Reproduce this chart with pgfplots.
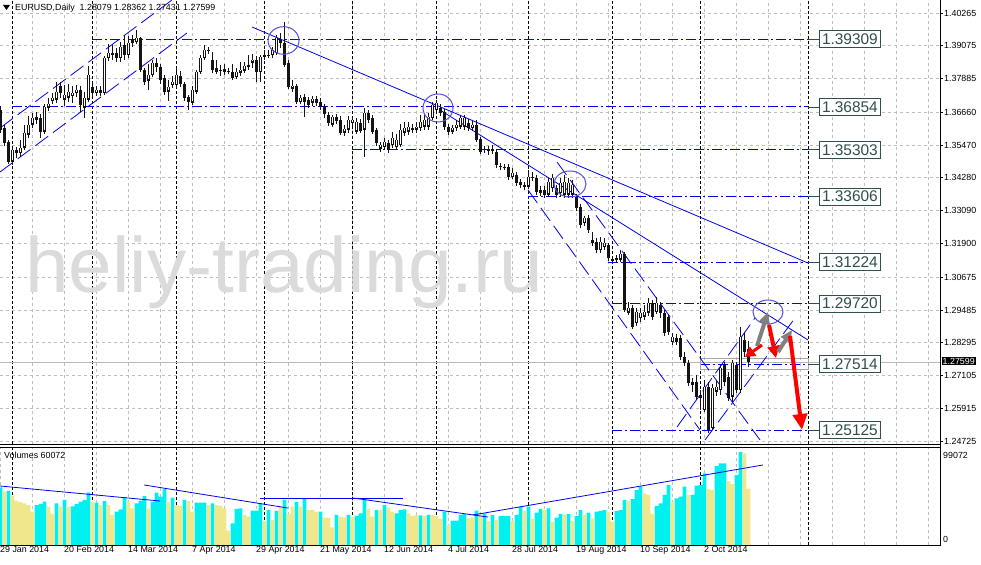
\documentclass[border=0pt]{standalone}
\usepackage{pgfplots}
\pgfplotsset{compat=1.18}
\usepackage{pgfplotstable}
\usepackage{fontspec}
\setmainfont{Liberation Sans}
\usetikzlibrary{arrows.meta}
\definecolor{cnd}{RGB}{20,20,20}
\definecolor{volup}{RGB}{0,240,240}
\definecolor{voldn}{RGB}{240,230,140}
\definecolor{lvl}{RGB}{0,0,240}
\definecolor{slate}{RGB}{47,79,79}
\definecolor{gridc}{RGB}{190,190,190}
\definecolor{circ}{RGB}{80,80,220}
\newcommand\tf{\fontsize{8.9}{10}\selectfont}
\newcommand\lbf{\fontsize{15.5}{16}\selectfont}

\pgfplotstableread{
i o h l c
0 1.3674 1.3689 1.3591 1.3602
1 1.3609 1.3620 1.3544 1.3555
2 1.3558 1.3566 1.3478 1.3486
3 1.3486 1.3544 1.3475 1.3529
4 1.3529 1.3540 1.3500 1.3518
5 1.3518 1.3566 1.3504 1.3537
6 1.3537 1.3620 1.3529 1.3591
7 1.3584 1.3653 1.3573 1.3620
8 1.3620 1.3664 1.3609 1.3645
9 1.3649 1.3667 1.3624 1.3638
10 1.3645 1.3660 1.3573 1.3595
11 1.3595 1.3696 1.3587 1.3685
12 1.3682 1.3718 1.3671 1.3696
13 1.3707 1.3736 1.3696 1.3718
14 1.3711 1.3776 1.3700 1.3740
15 1.3762 1.3776 1.3718 1.3736
16 1.3711 1.3765 1.3689 1.3729
17 1.3718 1.3769 1.3703 1.3740
18 1.3725 1.3762 1.3700 1.3736
19 1.3736 1.3765 1.3722 1.3747
20 1.3747 1.3762 1.3667 1.3693
21 1.3682 1.3740 1.3645 1.3718
22 1.3711 1.3834 1.3703 1.3801
23 1.3758 1.3776 1.3722 1.3736
24 1.3736 1.3762 1.3725 1.3747
25 1.3747 1.3762 1.3725 1.3736
26 1.3736 1.3870 1.3729 1.3863
27 1.3863 1.3914 1.3852 1.3881
28 1.3881 1.3910 1.3856 1.3874
29 1.3881 1.3900 1.3849 1.3863
30 1.3863 1.3921 1.3849 1.3903
31 1.3910 1.3947 1.3856 1.3874
32 1.3874 1.3943 1.3863 1.3918
33 1.3929 1.3947 1.3903 1.3918
34 1.3921 1.3965 1.3914 1.3936
35 1.3936 1.3939 1.3812 1.3820
36 1.3820 1.3827 1.3765 1.3776
37 1.3780 1.3841 1.3747 1.3801
38 1.3801 1.3856 1.3794 1.3845
39 1.3845 1.3863 1.3812 1.3831
40 1.3831 1.3841 1.3769 1.3783
41 1.3791 1.3801 1.3729 1.3740
42 1.3740 1.3783 1.3707 1.3758
43 1.3765 1.3798 1.3754 1.3776
44 1.3765 1.3827 1.3754 1.3801
45 1.3798 1.3816 1.3758 1.3769
46 1.3769 1.3776 1.3707 1.3718
47 1.3722 1.3729 1.3674 1.3703
48 1.3700 1.3762 1.3693 1.3747
49 1.3740 1.3820 1.3733 1.3812
50 1.3812 1.3874 1.3805 1.3863
51 1.3863 1.3910 1.3856 1.3892
52 1.3892 1.3903 1.3878 1.3889
53 1.3856 1.3885 1.3809 1.3820
54 1.3827 1.3856 1.3805 1.3812
55 1.3820 1.3838 1.3798 1.3816
56 1.3823 1.3841 1.3801 1.3812
57 1.3816 1.3827 1.3805 1.3812
58 1.3812 1.3841 1.3783 1.3791
59 1.3794 1.3827 1.3787 1.3812
60 1.3809 1.3849 1.3798 1.3820
61 1.3816 1.3849 1.3809 1.3834
62 1.3831 1.3874 1.3820 1.3838
63 1.3845 1.3878 1.3827 1.3856
64 1.3856 1.3870 1.3776 1.3812
65 1.3812 1.3874 1.3776 1.3867
66 1.3867 1.3892 1.3856 1.3874
67 1.3870 1.3892 1.3863 1.3874
68 1.3874 1.3903 1.3863 1.3892
69 1.3881 1.3947 1.3874 1.3936
70 1.3932 1.3954 1.3900 1.3918
71 1.3918 1.3994 1.3831 1.3838
72 1.3845 1.3856 1.3751 1.3758
73 1.3751 1.3783 1.3740 1.3762
74 1.3762 1.3769 1.3696 1.3703
75 1.3703 1.3729 1.3696 1.3718
76 1.3722 1.3733 1.3649 1.3703
77 1.3711 1.3722 1.3682 1.3693
78 1.3700 1.3725 1.3689 1.3714
79 1.3714 1.3725 1.3689 1.3700
80 1.3703 1.3718 1.3674 1.3685
81 1.3685 1.3696 1.3645 1.3660
82 1.3656 1.3667 1.3616 1.3627
83 1.3620 1.3656 1.3613 1.3649
84 1.3649 1.3660 1.3624 1.3635
85 1.3638 1.3653 1.3584 1.3591
86 1.3591 1.3620 1.3580 1.3605
87 1.3602 1.3653 1.3591 1.3638
88 1.3627 1.3649 1.3613 1.3638
89 1.3595 1.3645 1.3587 1.3631
90 1.3627 1.3642 1.3591 1.3598
91 1.3602 1.3682 1.3504 1.3664
92 1.3664 1.3674 1.3627 1.3638
93 1.3645 1.3656 1.3587 1.3595
94 1.3602 1.3609 1.3544 1.3555
95 1.3533 1.3558 1.3522 1.3547
96 1.3540 1.3573 1.3529 1.3558
97 1.3555 1.3566 1.3518 1.3529
98 1.3547 1.3595 1.3537 1.3573
99 1.3540 1.3587 1.3529 1.3566
100 1.3547 1.3624 1.3540 1.3602
101 1.3591 1.3631 1.3580 1.3609
102 1.3595 1.3631 1.3584 1.3613
103 1.3602 1.3624 1.3591 1.3609
104 1.3602 1.3631 1.3591 1.3613
105 1.3609 1.3656 1.3598 1.3631
106 1.3613 1.3656 1.3602 1.3638
107 1.3613 1.3664 1.3602 1.3649
108 1.3645 1.3703 1.3638 1.3693
109 1.3674 1.3711 1.3667 1.3700
110 1.3682 1.3696 1.3653 1.3664
111 1.3667 1.3678 1.3602 1.3613
112 1.3613 1.3624 1.3584 1.3595
113 1.3595 1.3620 1.3587 1.3609
114 1.3609 1.3638 1.3598 1.3620
115 1.3613 1.3656 1.3605 1.3645
116 1.3613 1.3656 1.3602 1.3645
117 1.3627 1.3642 1.3598 1.3609
118 1.3609 1.3635 1.3598 1.3620
119 1.3620 1.3638 1.3558 1.3566
120 1.3569 1.3576 1.3515 1.3522
121 1.3533 1.3544 1.3518 1.3529
122 1.3533 1.3544 1.3511 1.3526
123 1.3533 1.3547 1.3515 1.3526
124 1.3522 1.3529 1.3464 1.3475
125 1.3471 1.3482 1.3457 1.3468
126 1.3468 1.3478 1.3457 1.3467
127 1.3467 1.3478 1.3420 1.3431
128 1.3431 1.3464 1.3424 1.3446
129 1.3438 1.3449 1.3399 1.3409
130 1.3413 1.3424 1.3391 1.3402
131 1.3402 1.3413 1.3384 1.3395
132 1.3395 1.3457 1.3388 1.3431
133 1.3427 1.3449 1.3417 1.3431
134 1.3427 1.3438 1.3366 1.3377
135 1.3384 1.3399 1.3363 1.3373
136 1.3384 1.3399 1.3355 1.3366
137 1.3366 1.3427 1.3359 1.3413
138 1.3391 1.3442 1.3377 1.3427
139 1.3391 1.3402 1.3355 1.3366
140 1.3373 1.3427 1.3359 1.3409
141 1.3366 1.3438 1.3355 1.3413
142 1.3366 1.3427 1.3355 1.3409
143 1.3366 1.3420 1.3355 1.3402
144 1.3359 1.3369 1.3308 1.3319
145 1.3322 1.3333 1.3246 1.3257
146 1.3264 1.3290 1.3253 1.3282
147 1.3282 1.3293 1.3228 1.3239
148 1.3203 1.3232 1.3181 1.3192
149 1.3195 1.3210 1.3155 1.3166
150 1.3166 1.3213 1.3155 1.3195
151 1.3177 1.3210 1.3166 1.3192
152 1.3184 1.3192 1.3126 1.3137
153 1.3133 1.3144 1.3122 1.3126
154 1.3130 1.3148 1.3122 1.3137
155 1.3130 1.3166 1.3122 1.3151
156 1.3151 1.3159 1.2941 1.2948
157 1.2938 1.2977 1.2930 1.2956
158 1.2956 1.2966 1.2879 1.2887
159 1.2901 1.2956 1.2890 1.2941
160 1.2919 1.2956 1.2905 1.2938
161 1.2923 1.2966 1.2912 1.2941
162 1.2938 1.2992 1.2927 1.2974
163 1.2974 1.2985 1.2912 1.2923
164 1.2941 1.2996 1.2934 1.2974
165 1.2966 1.2977 1.2919 1.2938
166 1.2938 1.2948 1.2854 1.2865
167 1.2923 1.2934 1.2858 1.2869
168 1.2832 1.2865 1.2821 1.2850
169 1.2847 1.2861 1.2821 1.2832
170 1.2847 1.2858 1.2767 1.2778
171 1.2778 1.2796 1.2745 1.2756
172 1.2756 1.2767 1.2672 1.2683
173 1.2687 1.2701 1.2651 1.2676
174 1.2687 1.2712 1.2622 1.2633
175 1.2640 1.2658 1.2585 1.2629
176 1.2585 1.2694 1.2578 1.2669
177 1.2669 1.2687 1.2502 1.2513
178 1.2520 1.2680 1.2513 1.2665
179 1.2651 1.2694 1.2636 1.2669
180 1.2658 1.2749 1.2640 1.2738
181 1.2749 1.2760 1.2672 1.2687
182 1.2705 1.2723 1.2618 1.2629
183 1.2633 1.2767 1.2614 1.2756
184 1.2749 1.2760 1.2647 1.2658
185 1.2658 1.2887 1.2647 1.2850
186 1.2840 1.2869 1.2778 1.2796
187 1.28079 1.28362 1.27431 1.27599
}\candles

\pgfplotstableread{
i v u
0 61500 1
1 56900 0
2 57600 1
3 52200 0
4 47300 0
5 45800 0
6 44400 0
7 42600 0
8 35500 0
9 42600 1
10 43700 1
11 46200 1
12 40900 0
13 33100 0
14 44400 1
15 40900 0
16 48000 1
17 40900 0
18 41200 1
19 43700 1
20 46200 1
21 48000 1
22 56100 1
23 46200 0
24 45100 1
25 42600 0
26 46900 1
27 42600 0
28 32000 0
29 35500 1
30 38000 1
31 50800 1
32 46200 0
33 39100 0
34 44400 1
35 47300 1
36 52200 1
37 39100 0
38 46200 1
39 55800 1
40 51500 1
41 59700 1
42 46200 0
43 50500 1
44 42600 0
45 41600 0
46 48000 1
47 46900 0
48 35500 0
49 45100 1
50 45100 1
51 45100 1
52 42600 0
53 44400 1
54 42600 0
55 41600 0
56 39100 0
57 15300 0
58 23100 1
59 38400 1
60 39100 1
61 32000 0
62 30200 0
63 36600 1
64 36600 1
65 44400 1
66 25600 0
67 37300 1
68 26700 0
69 36300 1
70 40900 0
71 48000 1
72 33100 0
73 40900 0
74 45800 1
75 40900 0
76 49400 1
77 37300 0
78 37300 0
79 35500 0
80 35500 1
81 29100 0
82 29100 0
83 18800 0
84 32000 1
85 30200 0
86 29500 0
87 32000 1
88 30200 0
89 30900 1
90 33800 1
91 49000 1
92 38400 0
93 30200 0
94 37300 1
95 37300 0
96 42600 1
97 39800 0
98 35500 0
99 33800 1
100 37300 1
101 38000 1
102 33800 0
103 30900 0
104 32000 0
105 31600 1
106 30900 0
107 32000 1
108 32000 0
109 30900 0
110 28100 0
111 35500 1
112 21300 0
113 25900 1
114 25900 1
115 32000 1
116 33100 1
117 28400 0
118 29500 0
119 36600 1
120 31600 0
121 33800 1
122 25600 0
123 32000 1
124 26700 0
125 30900 1
126 30900 1
127 30900 1
128 25600 0
129 32000 1
130 40900 1
131 36300 0
132 40900 1
133 28400 0
134 34500 1
135 38400 1
136 37300 0
137 39100 1
138 24900 0
139 29100 1
140 33100 1
141 32000 0
142 33100 1
143 25600 0
144 30900 1
145 37300 1
146 32000 0
147 34500 1
148 28400 0
149 35500 1
150 36300 1
151 37300 1
152 35500 0
153 24900 0
154 36300 1
155 37300 1
156 48000 1
157 46900 0
158 49000 1
159 58600 1
160 62200 1
161 55100 0
162 53300 0
163 33100 0
164 41600 1
165 44400 1
166 53300 1
167 64000 1
168 46200 0
169 49800 1
170 51500 1
171 62200 1
172 53300 0
173 53300 1
174 63300 1
175 64000 1
176 76400 1
177 59700 0
178 58600 0
179 84200 1
180 87100 1
181 87100 1
182 68200 0
183 65000 0
184 74600 1
185 99072 1
186 97700 0
187 60072 0
}\vols

\begin{document}
\begin{tikzpicture}
\useasboundingbox (0,0) rectangle (981bp,565bp);
% ---------------- main price panel ----------------
\begin{axis}[
  at={(0bp,121bp)}, anchor=south west, scale only axis,
  width=940bp, height=444bp,
  xmin=0, xmax=235, ymin=1.24620, ymax=1.40737,
  axis line style={draw=none},
  xtick={8,16,...,232}, xticklabels={}, x tick style={draw=none},
  ytick={1.24725,1.25915,1.27105,1.28295,1.29485,1.30675,1.31900,1.33090,1.34280,1.35470,1.36660,1.37885,1.39075,1.40265},
  yticklabels={1.24725,1.25915,1.27105,1.28295,1.29485,1.30675,1.31900,1.33090,1.34280,1.35470,1.36660,1.37885,1.39075,1.40265},
  ytick pos=right, yticklabel pos=right, tick align=outside, major tick length=3bp,
  y tick style={black, line width=0.8bp},
  yticklabel style={font=\tf, anchor=west, inner sep=0pt, xshift=1bp},
  xmajorgrids, ymajorgrids,
  grid style={gridc, line width=0.8bp, dash pattern=on 3bp off 3bp},
]
% month separators
\addplot[ycomb, mark=none, black, line width=0.8bp, dash pattern=on 3bp off 2bp] coordinates {(3.125,2) (23.125,2) (44.125,2) (66.125,2) (88.125,2) (109.125,2) (132.125,2) (153.125,2) (175.125,2) (202.125,2)};
% watermark
\node[anchor=base west, inner sep=0pt, text=gray!28, font=\fontsize{78.6}{80}\selectfont] at (axis cs:6.25,1.30137) {heliy-trading.ru};
% bid line
\addplot[gray!55, line width=0.8bp] coordinates {(0,1.27599) (235,1.27599)};
% horizontal levels
\addplot[lvl, line width=1bp, dash pattern=on 10bp off 3bp on 2bp off 3bp] coordinates {(23,1.39309) (202,1.39309)};
\addplot[lvl, line width=1bp, dash pattern=on 10bp off 3bp on 2bp off 3bp] coordinates {(3,1.36854) (202,1.36854)};
\addplot[lvl, line width=1bp, dash pattern=on 10bp off 3bp on 2bp off 3bp] coordinates {(88,1.35303) (202,1.35303)};
\addplot[lvl, line width=1bp, dash pattern=on 10bp off 3bp on 2bp off 3bp] coordinates {(132,1.33606) (202,1.33606)};
\addplot[lvl, line width=1bp, dash pattern=on 10bp off 3bp on 2bp off 3bp] coordinates {(152,1.31224) (202,1.31224)};
\addplot[lvl, line width=1bp, dash pattern=on 10bp off 3bp on 2bp off 3bp] coordinates {(153,1.29720) (202,1.29720)};
\addplot[lvl, line width=1bp, dash pattern=on 10bp off 3bp on 2bp off 3bp] coordinates {(175,1.27514) (202,1.27514)};
\addplot[lvl, line width=1bp, dash pattern=on 10bp off 3bp on 2bp off 3bp] coordinates {(153,1.25125) (202,1.25125)};
% gray rectangle around 1.27514
\addplot[gray!70, line width=0.8bp] coordinates {(175,1.27742) (202,1.27742) (202,1.27342) (175,1.27342) (175,1.27742)};
% trend lines
\addplot[lvl, line width=0.8bp] coordinates {(63,1.39757) (202,1.31190)};
\addplot[lvl, line width=0.8bp] coordinates {(110,1.36744) (202,1.28395)};
% channel (left) dashed
\addplot[lvl, line width=0.8bp, dash pattern=on 16bp off 6bp] coordinates {(0,1.34493) (46.75,1.39539)};
\addplot[lvl, line width=0.8bp, dash pattern=on 16bp off 6bp] coordinates {(0,1.36091) (43,1.40737)};
% descending channel dashed
\addplot[lvl, line width=0.8bp, dash pattern=on 16bp off 6bp] coordinates {(132,1.33840) (175,1.25128)};
\addplot[lvl, line width=0.8bp, dash pattern=on 16bp off 6bp] coordinates {(139.25,1.34856) (190,1.24765)};
\addplot[lvl, line width=0.8bp, dash pattern=on 16bp off 6bp] coordinates {(169.25,1.25237) (188.75,1.29194)};
\addplot[lvl, line width=0.8bp, dash pattern=on 16bp off 6bp] coordinates {(176.25,1.24765) (198.75,1.29194)};
% candles: wicks
\addplot[draw=none, mark=none, forget plot,
  error bars/.cd, y dir=minus, y explicit, error mark=none,
  error bar style={draw=cnd, line width=1bp}]
  table[x expr=\thisrow{i}+0.125, y=h, y error minus expr=\thisrow{h}-\thisrow{l}] {\candles};
% bodies
\addplot[draw=none, mark=none, forget plot,
  error bars/.cd, y dir=minus, y explicit, error mark=none,
  error bar style={draw=cnd, line width=3bp}]
  table[x expr=\thisrow{i}+0.125, y expr={max(\thisrow{o},\thisrow{c})}, y error minus expr={abs(\thisrow{o}-\thisrow{c})}] {\candles};
% hollow (bullish) bodies
\addplot[draw=none, mark=none, forget plot,
  restrict expr to domain={\thisrow{c}-\thisrow{o}}{0:1},
  error bars/.cd, y dir=both, y explicit, error mark=-,
  error mark options={draw=cnd, line width=1bp, mark size=1.5bp},
  error bar style={draw=white, line width=1bp}]
  table[x expr=\thisrow{i}+0.125, y=c, y error plus expr=0, y error minus expr=\thisrow{c}-\thisrow{o}] {\candles};
% circles
\draw[circ, line width=1bp] (axis cs:70.875,1.39267) ellipse [x radius=15.5bp, y radius=13.8bp];
\draw[circ, line width=1bp] (axis cs:109.5,1.36817) ellipse [x radius=15bp, y radius=14bp];
\draw[circ, line width=1bp] (axis cs:142.5,1.34058) ellipse [x radius=16bp, y radius=13bp];
\draw[circ, line width=1bp] (axis cs:192,1.29411) ellipse [x radius=15bp, y radius=12bp];
% arrows
\addplot[gray, line width=4bp, -{Triangle[width=11bp,length=12bp]}] coordinates {(189.25,1.28177) (192,1.29411)};
\addplot[red, line width=3bp, -{Triangle[width=11bp,length=10bp]}] coordinates {(190.5,1.28214) (186.25,1.27778)};
\addplot[red, line width=4bp, -{Triangle[width=12bp,length=12bp]}] coordinates {(192.25,1.28939) (194,1.27742)};
\addplot[gray, line width=4bp, -{Triangle[width=11bp,length=12bp]}] coordinates {(194.5,1.27959) (198,1.28758)};
\addplot[red, line width=4bp, -{Triangle[width=14bp,length=16bp]}] coordinates {(197.5,1.28540) (200.5,1.25128)};
% level labels
\foreach \v in {1.39309,1.36854,1.35303,1.33606,1.31224,1.29720,1.27514,1.25125}{
  \edef\tmp{\noexpand\draw[slate, line width=0.8bp] (axis cs:202,\v) -- (axis cs:204.75,\v);
  \noexpand\node[draw=slate, line width=0.8bp, fill=white, text=slate, font=\noexpand\lbf, inner sep=0pt, minimum width=61bp, minimum height=17bp, anchor=west] at (axis cs:204.75,\v) {\v};}
  \tmp
}
\end{axis}
% ---------------- volume panel ----------------
\begin{axis}[
  at={(0bp,20bp)}, anchor=south west, scale only axis,
  width=940bp, height=98bp,
  xmin=0, xmax=235, ymin=0, ymax=104468,
  axis line style={draw=none},
  xtick={0,8,...,232},
  xticklabels={29 Jan 2014,,20 Feb 2014,,14 Mar 2014,,7 Apr 2014,,29 Apr 2014,,21 May 2014,,12 Jun 2014,,4 Jul 2014,,28 Jul 2014,,19 Aug 2014,,10 Sep 2014,,2 Oct 2014},
  x tick style={draw=none},
  xticklabel style={font=\tf, anchor=north west, inner sep=0pt, yshift=-1bp},
  ytick=\empty,
  xmajorgrids, grid style={gridc, line width=0.8bp, dash pattern=on 3bp off 3bp},
]
\addplot[ycomb, mark=none, black, line width=0.8bp, dash pattern=on 3bp off 2bp] coordinates {(3.125,200000) (23.125,200000) (44.125,200000) (66.125,200000) (88.125,200000) (109.125,200000) (132.125,200000) (153.125,200000) (175.125,200000) (202.125,200000)};
\addplot[ybar, bar width=3.6bp, bar shift=0pt, fill=volup, draw=none, restrict expr to domain={\thisrow{u}}{1:1}] table[x expr=\thisrow{i}+0.125, y=v] {\vols};
\addplot[ybar, bar width=3.6bp, bar shift=0pt, fill=voldn, draw=none, restrict expr to domain={\thisrow{u}}{0:0}] table[x expr=\thisrow{i}+0.125, y=v] {\vols};
\addplot[lvl, line width=0.8bp] coordinates {(0,62900) (40,46900)};
\addplot[lvl, line width=0.8bp] coordinates {(36,64000) (72,39400)};
\addplot[lvl, line width=0.8bp] coordinates {(65,50100) (100.75,50100)};
\addplot[lvl, line width=0.8bp] coordinates {(88.25,50100) (122,29800)};
\addplot[lvl, line width=0.8bp] coordinates {(118.25,32000) (190.75,85300)};
\end{axis}
% frame lines
\draw[black, line width=0.8bp] (940.5bp,20bp) -- (940.5bp,565bp);
\draw[black, line width=0.8bp] (0,121bp) -- (940.5bp,121bp);
\draw[black, line width=0.8bp] (0,118bp) -- (940.5bp,118bp);
\draw[black, line width=0.8bp] (0,20bp) -- (940.5bp,20bp);
% texts
\fill[black] (3bp,560bp) -- (10bp,560bp) -- (6.5bp,555bp) -- cycle;
\node[anchor=west, inner sep=0pt, font=\tf] at (15bp,557bp) {EURUSD,Daily\ \ 1.28079 1.28362 1.27431 1.27599};
\node[anchor=west, inner sep=0pt, font=\tf] at (4bp,109.5bp) {Volumes 60072};
\node[anchor=west, inner sep=0pt, font=\tf] at (943bp,110bp) {99072};
\node[anchor=west, inner sep=0pt, font=\tf] at (943bp,26bp) {0};
\node[anchor=west, fill=black, text=white, inner sep=1pt, font=\tf] at (941.5bp,204bp) {1.27599};
\end{tikzpicture}
\end{document}
